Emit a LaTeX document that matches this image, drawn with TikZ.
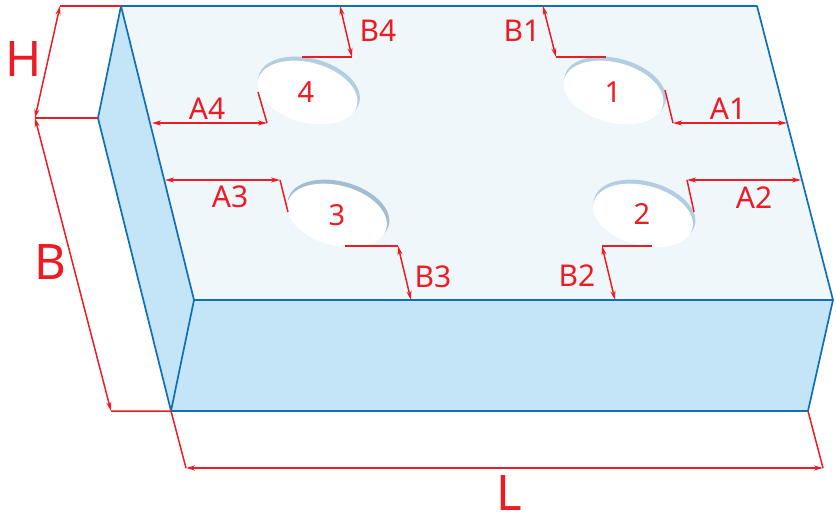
\documentclass[tikz,border=0pt]{standalone}
\usepackage{fontspec}
\setmainfont{Noto Sans}
\usetikzlibrary{arrows.meta}
\definecolor{edgeblue}{HTML}{0F70B7}
\definecolor{sideblue}{HTML}{C4E4F7}
\definecolor{topblue}{HTML}{EFF7FB}
\definecolor{dimred}{HTML}{ED1C24}
\definecolor{rimlight}{HTML}{B2CEE2}
\definecolor{rimdark}{HTML}{A3BDD1}
\tikzset{
  x=1pt,y=-1pt,
  edgeline/.style={draw=edgeblue,line width=1.7pt,line join=round},
  extline/.style={draw=dimred,line width=1.5pt},
  dimline/.style={draw=dimred,line width=1.5pt,{Stealth[length=9pt,width=5pt]}-{Stealth[length=9pt,width=5pt]}},
  biglabel/.style={text=dimred,inner sep=0pt,font=\fontsize{49}{49}\selectfont},
  smalllabel/.style={text=dimred,inner sep=0pt,font=\fontsize{30}{30}\selectfont},
  numlabel/.style={text=dimred,inner sep=0pt,font=\fontsize{29}{29}\selectfont},
}
\newcommand{\holeshape}[3]{%
  \fill[#3,shift={(#1,#2)},rotate=-15] (0,0) ellipse [x radius=52pt,y radius=30.5pt];
  \fill[white,shift={(#1-1.5,#2+3.5)},rotate=-15] (0,0) ellipse [x radius=51pt,y radius=30pt];
}
\begin{document}
\begin{tikzpicture}
\useasboundingbox (0,0) rectangle (836,513);
% corners
\coordinate (tl) at (121,6);
\coordinate (tr) at (757,6);
\coordinate (fr) at (833,300);
\coordinate (fl) at (194,300);
\coordinate (lm) at (98,118);
\coordinate (bl) at (171,411);
\coordinate (br) at (808,411);
% faces
\fill[topblue] (tl) -- (tr) -- (fr) -- (fl) -- cycle;
\fill[sideblue] (lm) -- (tl) -- (fl) -- (bl) -- cycle;
\fill[sideblue] (fl) -- (fr) -- (br) -- (bl) -- cycle;
% holes
\holeshape{309}{89}{rimlight}
\holeshape{615}{89}{rimlight}
\holeshape{644.5}{212}{rimlight}
\holeshape{338.5}{212}{rimdark}
% edges
\draw[edgeline] (tl) -- (tr) -- (fr) -- (fl) -- cycle;
\draw[edgeline] (lm) -- (tl);
\draw[edgeline] (lm) -- (bl) -- (fl);
\draw[edgeline] (bl) -- (br) -- (fr);
% dimension anchors
\coordinate (hTop) at (60,6);
\coordinate (hBot) at (35,118);
\coordinate (bBot) at (111,411);
\coordinate (lL) at (186,468);
\coordinate (lR) at (823,468);
\coordinate (a4L) at (152,123);
\coordinate (a4R) at (267,123);
\coordinate (a4E) at (258,92);
\coordinate (a3L) at (165,180);
\coordinate (a3R) at (280,180);
\coordinate (a3E) at (288,212);
\coordinate (a1L) at (673,123);
\coordinate (a1R) at (787,123);
\coordinate (a1E) at (665,90);
\coordinate (a2L) at (687,180);
\coordinate (a2R) at (801,180);
\coordinate (a2E) at (694,212);
\coordinate (b4T) at (340,6);
\coordinate (b4B) at (352,57);
\coordinate (b4E) at (302,57);
\coordinate (b1T) at (543,6);
\coordinate (b1B) at (556,57);
\coordinate (b1E) at (606,57);
\coordinate (b3T) at (398,246);
\coordinate (b3B) at (411,300);
\coordinate (b3E) at (345,246);
\coordinate (b2T) at (602,246);
\coordinate (b2B) at (615,300);
\coordinate (b2E) at (652,246);
% extension lines
\draw[extline] (hTop) -- (tl);
\draw[extline] (hBot) -- (lm);
\draw[extline] (bBot) -- (bl) -- (lL);
\draw[extline] (br) -- (lR);
\draw[extline] (a4R) -- (a4E);
\draw[extline] (a3R) -- (a3E);
\draw[extline] (a1L) -- (a1E);
\draw[extline] (a2L) -- (a2E);
\draw[extline] (b4B) -- (b4E);
\draw[extline] (b1B) -- (b1E);
\draw[extline] (b3T) -- (b3E);
\draw[extline] (b2T) -- (b2E);
% dimension lines
\draw[dimline] (hTop) -- (hBot);
\draw[dimline] (hBot) -- (bBot);
\draw[dimline] (lL) -- (lR);
\draw[dimline] (a4L) -- (a4R);
\draw[dimline] (a3L) -- (a3R);
\draw[dimline] (a1L) -- (a1R);
\draw[dimline] (a2L) -- (a2R);
\draw[dimline] (b4T) -- (b4B);
\draw[dimline] (b1T) -- (b1B);
\draw[dimline] (b3T) -- (b3B);
\draw[dimline] (b2T) -- (b2B);
% labels
\node[biglabel] (labH) at (24,59) {H};
\node[biglabel] (labB) at (50,262) {B};
\node[biglabel] (labL) at (509,493) {L};
\node[smalllabel] (labA4) at (207,109) {A4};
\node[smalllabel] (labA3) at (230,197) {A3};
\node[smalllabel] (labA1) at (728,109) {A1};
\node[smalllabel] (labA2) at (754,198) {A2};
\node[smalllabel] (labB4) at (378,31) {B4};
\node[smalllabel] (labB1) at (522,31) {B1};
\node[smalllabel] (labB3) at (433,277) {B3};
\node[smalllabel] (labB2) at (577,276) {B2};
\node[numlabel] (num4) at (306,92) {4};
\node[numlabel] (num3) at (337,215) {3};
\node[numlabel] (num1) at (613,92) {1};
\node[numlabel] (num2) at (642,214) {2};
\end{tikzpicture}
\end{document}
